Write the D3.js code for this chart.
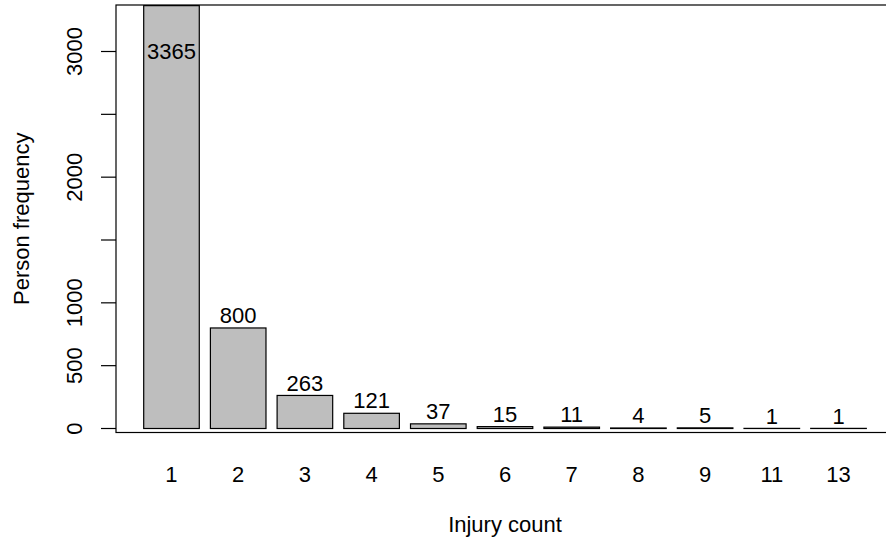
<!doctype html>
<html>
<head>
<meta charset="UTF-8" />
<script src="https://d3js.org/d3.v7.min.js"></script>
<style>
  body { margin: 0; background: #fff; }
  text { font-family: "Liberation Sans", Arial, sans-serif; fill: #000; }
</style>
</head>
<body>
<svg id="chart" width="886" height="546"></svg>
<script>
// injury count categories and person frequencies
const categories = ["1", "2", "3", "4", "5", "6", "7", "8", "9", "11", "13"];
const counts = [3365, 800, 263, 121, 37, 15, 11, 4, 5, 1, 1];
const yTicks = [0, 500, 1000, 1500, 2000, 2500, 3000];
const yTickLabels = [0, 500, 1000, 2000, 3000];

const svg = d3.select("#chart");
const fontSize = 22;

const box = { left: 116, top: 5, bottom: 432.5, right: 892 };

// y scale: 0 at 428.5, 3000 at 51.5
const y = d3.scaleLinear().domain([0, 3000]).range([428.5, 51.5]);

const x = d3.scaleBand()
  .domain(categories)
  .range([143.7, 866.3])
  .paddingInner(1 / 6)
  .paddingOuter(0);

const data = categories.map((c, i) => ({ cat: c, val: counts[i] }));

// clip bars to plot region
svg.append("clipPath").attr("id", "plotClip")
  .append("rect")
  .attr("x", box.left).attr("y", box.top)
  .attr("width", box.right - box.left).attr("height", box.bottom - box.top);

const plot = svg.append("g").attr("clip-path", "url(#plotClip)");

plot.selectAll("rect.bar")
  .data(data)
  .enter().append("rect")
  .attr("class", "bar")
  .attr("x", d => x(d.cat))
  .attr("y", d => y(d.val))
  .attr("width", x.bandwidth())
  .attr("height", d => y(0) - y(d.val))
  .attr("fill", "#bebebe")
  .attr("stroke", "#000")
  .attr("stroke-width", 1.2);

// value labels above bars, capped inside the plot
svg.selectAll("text.val")
  .data(data)
  .enter().append("text")
  .attr("class", "val")
  .attr("x", d => x(d.cat) + x.bandwidth() / 2)
  .attr("y", d => y(Math.min(d.val + 100, 3000)))
  .attr("dy", "0.35em")
  .attr("text-anchor", "middle")
  .attr("font-size", fontSize)
  .text(d => d.val);

// box
svg.append("rect")
  .attr("x", box.left).attr("y", box.top)
  .attr("width", box.right - box.left).attr("height", box.bottom - box.top)
  .attr("fill", "none").attr("stroke", "#000").attr("stroke-width", 1.2);

// y axis
const yAxis = svg.append("g");
yAxis.selectAll("line")
  .data(yTicks)
  .enter().append("line")
  .attr("x1", 101).attr("x2", box.left)
  .attr("y1", d => y(d)).attr("y2", d => y(d))
  .attr("stroke", "#000").attr("stroke-width", 1.2);

yAxis.selectAll("text")
  .data(yTickLabels)
  .enter().append("text")
  .attr("transform", d => "translate(82," + y(d) + ") rotate(-90)")
  .attr("text-anchor", "middle")
  .attr("font-size", fontSize)
  .text(d => d);

// x category labels
svg.selectAll("text.xlab")
  .data(categories)
  .enter().append("text")
  .attr("class", "xlab")
  .attr("x", d => x(d) + x.bandwidth() / 2)
  .attr("y", 482)
  .attr("text-anchor", "middle")
  .attr("font-size", fontSize)
  .text(d => d);

// axis titles
svg.append("text")
  .attr("x", 505)
  .attr("y", 532)
  .attr("text-anchor", "middle")
  .attr("font-size", fontSize)
  .text("Injury count");

svg.append("text")
  .attr("transform", "translate(29," + ((box.top + box.bottom) / 2) + ") rotate(-90)")
  .attr("text-anchor", "middle")
  .attr("font-size", fontSize)
  .text("Person frequency");
</script>
</body>
</html>
